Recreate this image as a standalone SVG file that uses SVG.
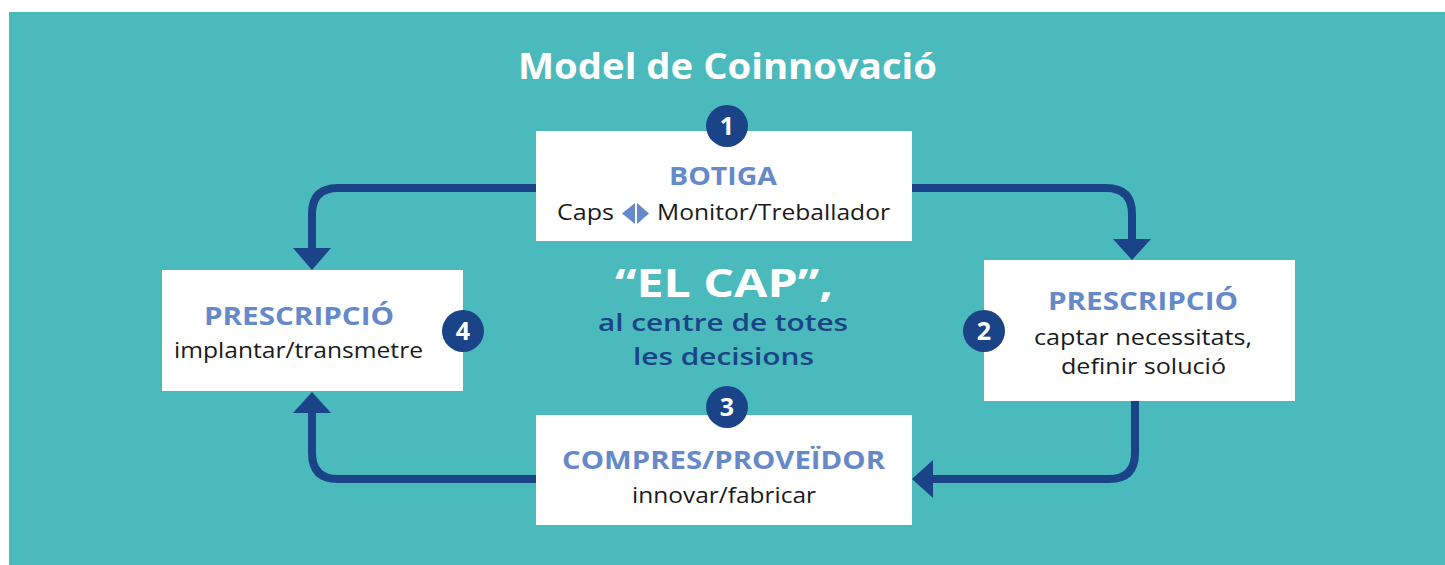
<svg xmlns="http://www.w3.org/2000/svg" width="1445" height="565" viewBox="0 0 1445 565">
<defs>
<style>
.bg{fill:#4BBABD}
.box{fill:#ffffff}
.num{fill:#1A4487}
.numt{fill:#ffffff;font-family:"Open Sans",sans-serif;font-weight:700;font-size:25px;text-anchor:middle}
.hd{fill:#6689C9;font-family:"Open Sans",sans-serif;font-weight:700;font-size:25px}
.tx{fill:#1a1a1a;font-family:"Open Sans",sans-serif;font-size:22px}
.tx2{fill:#1a1a1a;font-family:"Open Sans",sans-serif;font-size:21px}
.ln{fill:none;stroke:#1A4487;stroke-width:8}
.ah{fill:#1A4487}
</style>
</defs>
<rect class="bg" x="9" y="12" width="1436" height="553"/>
<text x="518" y="79" textLength="419" lengthAdjust="spacingAndGlyphs" style="fill:#ffffff;font-family:'Open Sans',sans-serif;font-weight:700;font-size:35px">Model de Coinnovació</text>

<g id="connectors">
<path class="ln" d="M536,188 H338 Q312,188 312,214 V250"/>
<polygon class="ah" points="293,248 331,248 312,270"/>
<path class="ln" d="M912,188 H1106 Q1132,188 1132,214 V241"/>
<polygon class="ah" points="1113,239 1151,239 1132,260"/>
<path class="ln" d="M1135,401 V453 Q1135,479 1109,479 H930"/>
<polygon class="ah" points="933,460 933,498 912,479"/>
<path class="ln" d="M536,479 H338 Q312,479 312,453 V412"/>
<polygon class="ah" points="293,413 331,413 312,392"/>
</g>

<g id="center">
<text x="615" y="297" textLength="218" lengthAdjust="spacingAndGlyphs" style="fill:#ffffff;font-family:'Open Sans',sans-serif;font-weight:700;font-size:39px">“EL CAP”,</text>
<text x="598" y="331" textLength="250" lengthAdjust="spacingAndGlyphs" style="fill:#1A4487;font-family:'Open Sans',sans-serif;font-weight:600;font-size:23px">al centre de totes</text>
<text x="633" y="365" textLength="181" lengthAdjust="spacingAndGlyphs" style="fill:#1A4487;font-family:'Open Sans',sans-serif;font-weight:600;font-size:23px">les decisions</text>
</g>

<g id="node-botiga">
<rect class="box" x="536" y="131" width="376" height="110"/>
<circle class="num" cx="727" cy="126" r="21"/>
<text class="numt" x="727" y="135">1</text>
<text class="hd" x="669" y="185" textLength="108" lengthAdjust="spacingAndGlyphs">BOTIGA</text>
<text class="tx" x="557" y="220" textLength="57" lengthAdjust="spacingAndGlyphs">Caps</text>
<polygon points="635,203 635,224 622,213.5" fill="#6689C9"/>
<polygon points="637,203 637,224 649,213.5" fill="#6689C9"/>
<text class="tx" x="657" y="220" textLength="233" lengthAdjust="spacingAndGlyphs">Monitor/Treballador</text>
</g>

<g id="node-prescripcio-2">
<rect class="box" x="984" y="260" width="311" height="141"/>
<circle class="num" cx="984" cy="331" r="21"/>
<text class="numt" x="984" y="340">2</text>
<text class="hd" x="1048" y="310" textLength="190" lengthAdjust="spacingAndGlyphs">PRESCRIPCIÓ</text>
<text class="tx2" x="1034" y="345" textLength="218" lengthAdjust="spacingAndGlyphs">captar necessitats,</text>
<text class="tx2" x="1061" y="374" textLength="165" lengthAdjust="spacingAndGlyphs">definir solució</text>
</g>

<g id="node-compres">
<rect class="box" x="536" y="415" width="376" height="110"/>
<circle class="num" cx="727" cy="407" r="21"/>
<text class="numt" x="727" y="416">3</text>
<text class="hd" x="562" y="469" textLength="323" lengthAdjust="spacingAndGlyphs">COMPRES/PROVEÏDOR</text>
<text class="tx" x="632" y="503" textLength="184" lengthAdjust="spacingAndGlyphs">innovar/fabricar</text>
</g>

<g id="node-prescripcio-4">
<rect class="box" x="162" y="270" width="301" height="121"/>
<circle class="num" cx="463" cy="331" r="21"/>
<text class="numt" x="463" y="340">4</text>
<text class="hd" x="204" y="325" textLength="190" lengthAdjust="spacingAndGlyphs">PRESCRIPCIÓ</text>
<text class="tx" x="174" y="358" textLength="249" lengthAdjust="spacingAndGlyphs">implantar/transmetre</text>
</g>
</svg>
